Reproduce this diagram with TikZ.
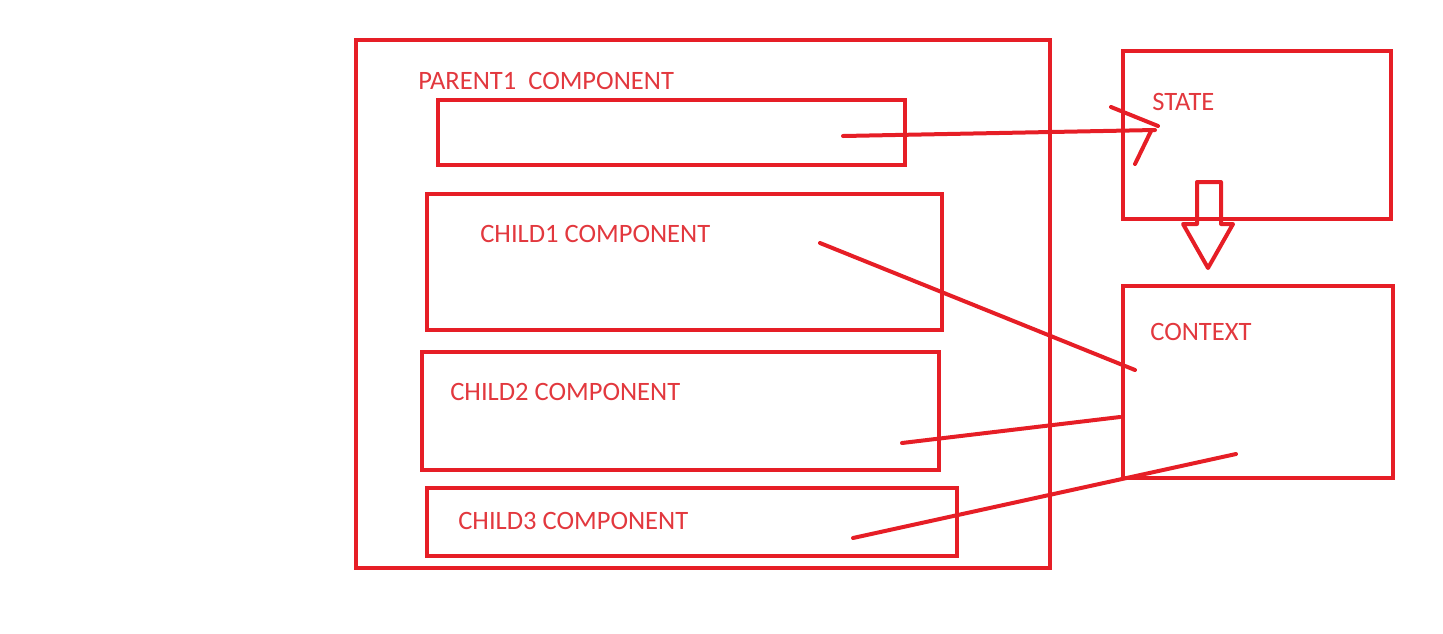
\documentclass[tikz,border=0pt]{standalone}
\usepackage{fontspec}
\setmainfont{Carlito}
\usetikzlibrary{fit}

\definecolor{linered}{RGB}{230,30,38}
\definecolor{textred}{RGB}{226,56,62}

\begin{document}
\begin{tikzpicture}[x=0.02cm,y=-0.02cm,
  box/.style={draw=linered,line width=0.08cm,inner sep=0pt},
  lbl/.style={text=textred,anchor=west,inner sep=0pt,font=\fontsize{15.1}{17}\selectfont},
  wire/.style={draw=linered,line width=0.08cm,line cap=round}]
\useasboundingbox (0,0) rectangle (1443,633);

% boxes
\node[box,fit={(356,40) (1050,568)}] (parent) {};
\node[box,fit={(438,100) (905,165)}] (slot) {};
\node[box,fit={(427,194) (942,330)}] (child1) {};
\node[box,fit={(422,352) (939,470)}] (child2) {};
\node[box,fit={(427,488) (957,556)}] (child3) {};
\node[box,fit={(1123,51) (1391,219)}] (state) {};
\node[box,fit={(1123,286) (1393,478)}] (context) {};

% labels
\node[lbl] (parentlbl) at (418,81) {PARENT1\ \ COMPONENT};
\node[lbl] (child1lbl) at (480,234) {CHILD1 COMPONENT};
\node[lbl] (child2lbl) at (450,392) {CHILD2 COMPONENT};
\node[lbl] (child3lbl) at (458,521) {CHILD3 COMPONENT};
\node[lbl] (statelbl) at (1152,102) {STATE};
\node[lbl] (contextlbl) at (1150,332) {CONTEXT};

% connector ends
\coordinate (s0) at (843,136);
\coordinate (s1) at (1155,130);
\coordinate (h1) at (1111,107);
\coordinate (h2) at (1158,126);
\coordinate (h3) at (1135,164);
\coordinate (h4) at (1151,131);
\coordinate (c1a) at (820,243);
\coordinate (c1b) at (1135,370);
\coordinate (c2a) at (902,443);
\coordinate (c2b) at (1120,417);
\coordinate (c3a) at (853,538);
\coordinate (c3b) at (1236,454);

\draw[wire] (s0) -- (s1);
\draw[wire] (h1) -- (h2);
\draw[wire] (h3) -- (h4);
\draw[wire] (c1a) -- (c1b);
\draw[wire] (c2a) -- (c2b);
\draw[wire] (c3a) -- (c3b);

% state to context
\draw[draw=linered,line width=0.08cm,line join=round]
  (1197,182) -- (1221,182) -- (1221,224) -- (1233,224) -- (1208,268)
  -- (1183,224) -- (1197,224) -- cycle;
\end{tikzpicture}
\end{document}
